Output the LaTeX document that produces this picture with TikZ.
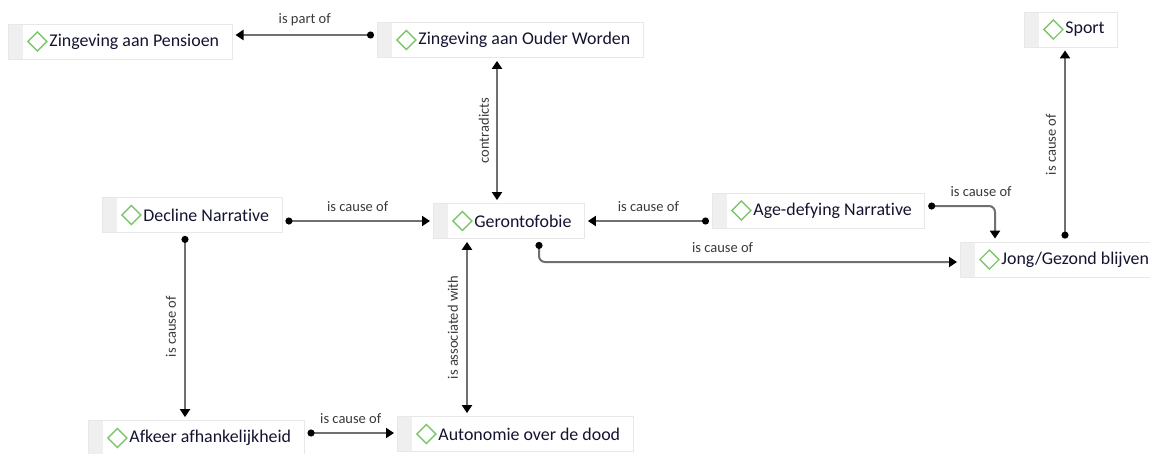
\documentclass[tikz,border=0pt]{standalone}
\usepackage{fontspec}
\setmainfont{Carlito}[Ligatures=NoCommon]
\usepackage{tikz}
\usetikzlibrary{arrows.meta}
\definecolor{boxline}{HTML}{E8E8E8}
\definecolor{stripgray}{HTML}{EFEFEF}
\definecolor{diamondgreen}{HTML}{7DC66A}
\definecolor{conceptink}{HTML}{141430}
\definecolor{linkgray}{HTML}{707070}
\definecolor{labelink}{HTML}{3A3A3A}
\tikzset{
    concept/.style={rectangle, draw=boxline, fill=white, line width=0.8pt,
    	minimum height=35pt, inner xsep=0pt, inner ysep=0pt, anchor=west,
    	text=conceptink, font=\fontsize{17.9}{20}\selectfont,
    	execute at begin node={\hspace*{41pt}},
    	execute at end node={\hspace*{13pt}},
    	path picture={
    	  \fill[stripgray] (path picture bounding box.south west)
    	    rectangle ([xshift=15pt]path picture bounding box.north west);
    	  \draw[diamondgreen, line width=1.3pt]
    	    ([xshift=19.5pt]path picture bounding box.west) -- ++(9.5pt,9.5pt)
    	    -- ++(9.5pt,-9.5pt) -- ++(-9.5pt,-9.5pt) -- cycle;
    	}}
}
\tikzset{
    link/.style={draw=linkgray, line width=2pt, rounded corners=6pt,
    	{Circle[length=7pt,black]}-{Triangle[width=10pt,length=8pt,black]},
    	shorten <=3pt, shorten >=3pt},
    twoway/.style={link, {Triangle[width=10pt,length=8pt,black]}-{Triangle[width=10pt,length=8pt,black]}}
}
\tikzset{
    lbl/.style={text=labelink, font=\fontsize{14.5}{16}\selectfont, inner sep=1pt}
}

\begin{document}
\begin{tikzpicture}[x=1pt, y=-1pt]
  \useasboundingbox (0,0) rectangle (1150,453);
  \node (pens) [concept] at (8, 41.5) {Zingeving aan Pensioen};
  \node (ouder) [concept] at (377, 40) {Zingeving aan Ouder Worden};
  \node (sport) [concept] at (1024, 29.5) {Sport};
  \node (decline) [concept] at (102, 215) {Decline Narrative};
  \node (ger) [concept] at (433, 221) {Gerontofobie};
  \node (age) [concept] at (712, 210.5) {Age-defying Narrative};
  \node (jong) [concept] at (960, 259.5) {Jong/Gezond blijven};
  \node (afkeer) [concept] at (88, 438) {Afkeer afhankelijkheid};
  \node (auto) [concept] at (397, 434) {Autonomie over de dood};

  \draw[link] ([yshift=5pt]ouder.west) -- ([yshift=6.5pt]pens.east)
    node[lbl, midway, above=7pt] {is part of};
  \draw[twoway] ([xshift=120pt]ouder.south west) -- ([xshift=64pt]ger.north west)
    node[lbl, midway, rotate=90, above=6pt] {contradicts};
  \draw[link] ([yshift=-6pt]decline.east) -- (ger.west)
    node[lbl, midway, above=7pt] {is cause of};
  \draw[link] ([yshift=-10.5pt]age.west) -- (ger.east)
    node[lbl, midway, above=7pt] {is cause of};
  \draw[link] ([yshift=4.5pt]age.east) -| ([xshift=35pt]jong.north west)
    node[lbl, pos=0.4, above=7pt] {is cause of};
  \draw[link] ([xshift=106pt]ger.south west) |- ([yshift=-2.5pt]jong.west)
    node[lbl, pos=0.718, above=7pt] {is cause of};
  \draw[link] ([xshift=105pt]jong.north west) -- ([xshift=41pt]sport.south west)
    node[lbl, midway, rotate=90, above=7pt] {is cause of};
  \draw[link] ([xshift=83pt]decline.south west) -- ([xshift=97pt]afkeer.north west)
    node[lbl, midway, rotate=90, above=7pt] {is cause of};
  \draw[twoway] ([xshift=34pt]ger.south west) -- ([xshift=70pt]auto.north west)
    node[lbl, midway, rotate=90, above=7pt] {is associated with};
  \draw[link] ([yshift=5pt]afkeer.east) -- ([yshift=1pt]auto.west)
    node[lbl, midway, above=7pt] {is cause of};
\end{tikzpicture}
\end{document}
